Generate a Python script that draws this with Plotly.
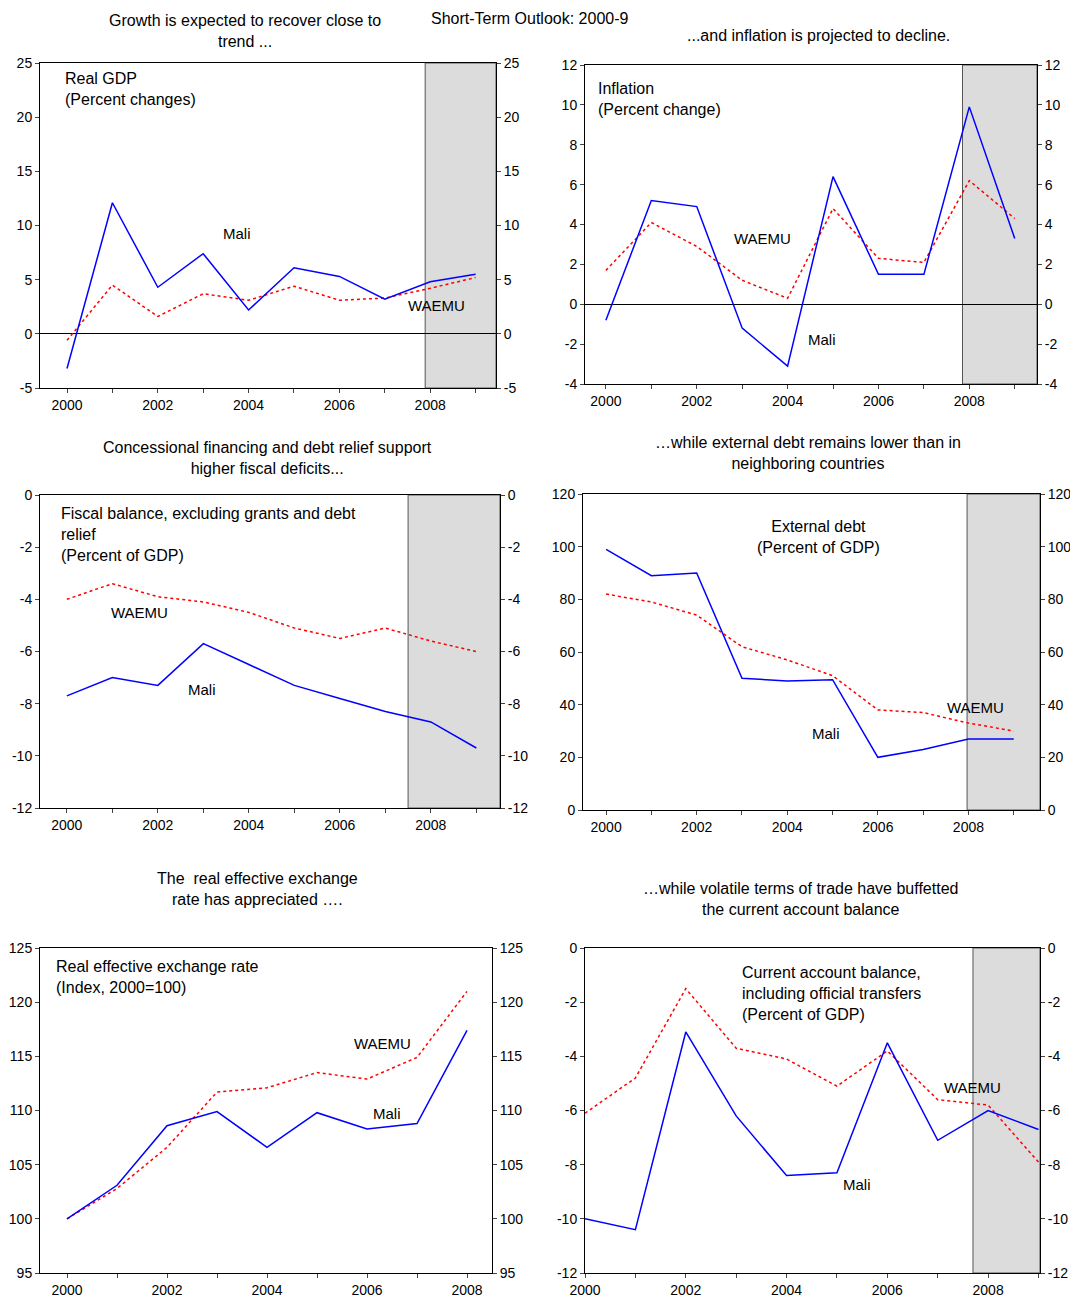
import plotly.graph_objects as go

W, H = 1078, 1306
OFF = 8  # page body margin
FW, FH = W - 2 * OFF, H - 2 * OFF
FONT = "Liberation Sans, Arial, sans-serif"

years10 = list(range(2000, 2010))
years9 = list(range(2000, 2009))

gdp_mali = [-3.2, 12.1, 4.3, 7.4, 2.2, 6.1, 5.3, 3.2, 4.8, 5.5]
gdp_waemu = [-0.6, 4.5, 1.6, 3.7, 3.1, 4.4, 3.1, 3.3, 4.2, 5.2]
inf_mali = [-0.8, 5.2, 4.9, -1.2, -3.1, 6.4, 1.5, 1.5, 9.9, 3.3]
inf_waemu = [1.7, 4.1, 2.9, 1.2, 0.3, 4.8, 2.3, 2.1, 6.2, 4.3]
fis_mali = [-7.7, -7.0, -7.3, -5.7, -6.5, -7.3, -7.8, -8.3, -8.7, -9.7]
fis_waemu = [-4.0, -3.4, -3.9, -4.1, -4.5, -5.1, -5.5, -5.1, -5.6, -6.0]
debt_mali = [99, 89, 90, 50, 49, 49.5, 20, 23, 27, 27]
debt_waemu = [82, 79, 74, 62, 57, 51, 38, 37, 33, 30]
reer_mali = [100, 103.1, 108.6, 109.9, 106.6, 109.8, 108.3, 108.8, 117.4]
reer_waemu = [100, 102.8, 106.6, 111.7, 112.1, 113.5, 112.9, 114.9, 121.0]
ca_mali = [-10.0, -10.4, -3.1, -6.2, -8.4, -8.3, -3.5, -7.1, -6.0, -6.7]
ca_waemu = [-6.1, -4.8, -1.5, -3.7, -4.1, -5.1, -3.8, -5.6, -5.8, -7.9]

panels = [
    dict(px=(40, 496, 63, 388), xr=[1999.405, 2009.45], yr=[-5, 25], dt=5, yrs=years10,
         mali=gdp_mali, waemu=gdp_waemu, shade=2007.89, zero=True),
    dict(px=(585, 1037, 65, 384), xr=[1999.54, 2009.49], yr=[-4, 12], dt=2, yrs=years10,
         mali=inf_mali, waemu=inf_waemu, shade=2007.85, zero=True),
    dict(px=(40, 500, 495, 808), xr=[1999.41, 2009.52], yr=[-12, 0], dt=2, yrs=years10,
         mali=fis_mali, waemu=fis_waemu, shade=2007.5, zero=False),
    dict(px=(583, 1040, 494, 810), xr=[1999.49, 2009.58], yr=[0, 120], dt=20, yrs=years10,
         mali=debt_mali, waemu=debt_waemu, shade=2007.97, zero=False),
    dict(px=(40, 492, 948, 1273), xr=[1999.46, 2008.5], yr=[95, 125], dt=5, yrs=years9,
         mali=reer_mali, waemu=reer_waemu, shade=None, zero=False),
    dict(px=(585, 1040, 948, 1273), xr=[2000, 2009.03], yr=[-12, 0], dt=2, yrs=years10,
         mali=ca_mali, waemu=ca_waemu, shade=2007.7, zero=False),
]


def fx(x):
    return (x - OFF) / FW


def fy(y):
    return 1 - (y - OFF) / FH


fig = go.Figure()
shapes, annotations = [], []
tickfont = dict(family=FONT, size=14, color="black")

for i, p in enumerate(panels, start=1):
    l, r, t, b = p["px"]
    xd = [fx(l), fx(r)]
    yd = [fy(b), fy(t)]
    xa, ya, ya2 = f"x{i}", f"y{i}", f"y{i + 6}"
    xk = "xaxis" if i == 1 else f"xaxis{i}"
    yk = "yaxis" if i == 1 else f"yaxis{i}"
    if p["shade"] is not None:
        shapes.append(dict(type="rect", xref=xa, yref="paper", x0=p["shade"], x1=p["xr"][1],
                           y0=yd[0], y1=yd[1], fillcolor="#dcdcdc",
                           line=dict(color="#555", width=1), layer="below"))
    fig.add_trace(go.Scatter(x=p["yrs"], y=p["waemu"], mode="lines", xaxis=xa, yaxis=ya,
                             line=dict(color="red", width=1.5, dash="dot"), showlegend=False))
    fig.add_trace(go.Scatter(x=p["yrs"], y=p["mali"], mode="lines", xaxis=xa, yaxis=ya,
                             line=dict(color="blue", width=1.5), showlegend=False))
    fig.add_trace(go.Scatter(x=[None], y=[None], xaxis=xa, yaxis=ya2, showlegend=False))
    ticktext = [str(y) if y % 2 == 0 else "" for y in p["yrs"]]
    yvals = list(range(p["yr"][0], p["yr"][1] + 1, p["dt"]))
    ytext = [str(v) for v in yvals]
    fig.layout[xk] = dict(domain=xd, range=p["xr"], tickmode="array", tickvals=p["yrs"],
                          ticktext=ticktext, ticks="outside", ticklen=4, showline=True,
                          linecolor="black", mirror=True, showgrid=False, zeroline=False,
                          tickfont=tickfont, anchor=ya, automargin=False)
    fig.layout[yk] = dict(domain=yd, range=p["yr"], tickmode="array", tickvals=yvals,
                          ticktext=ytext, ticks="outside", ticklen=4,
                          showline=True, linecolor="black", showgrid=False,
                          zeroline=p["zero"], zerolinecolor="black", zerolinewidth=1,
                          tickfont=tickfont, anchor=xa, automargin=False)
    fig.layout[f"yaxis{i + 6}"] = dict(domain=yd, range=p["yr"], tickmode="array", tickvals=yvals,
                                       ticktext=ytext, ticks="outside",
                                       ticklen=4, showline=True, linecolor="black",
                                       showgrid=False, zeroline=False, side="right",
                                       overlaying=ya, anchor=xa, tickfont=tickfont,
                                       automargin=False)


def note(text, x, y, xanchor="center", yanchor="middle", size=14, align="center"):
    annotations.append(dict(text=text, x=fx(x), y=fy(y), xref="paper", yref="paper",
                            xanchor=xanchor, yanchor=yanchor, showarrow=False, align=align,
                            font=dict(family=FONT, size=size, color="black")))


note("Short-Term Outlook: 2000-9", 530, 8, yanchor="top", size=16)
note("Growth is expected to recover close to<br>trend ...", 245, 31, size=16)
note("...and inflation is projected to decline.", 818, 36, size=16)
note("Concessional financing and debt relief support<br>higher fiscal deficits...", 267, 458, size=16)
note("…while external debt remains lower than in<br>neighboring countries", 808, 453, size=16)
note("The  real effective exchange<br>rate has appreciated ….", 258, 889, size=16)
note("…while volatile terms of trade have buffetted<br>the current account balance", 800, 899, size=16)

note("Real GDP<br>(Percent changes)", 63, 68, "left", "top", 16, "left")
note("Inflation<br>(Percent change)", 596, 78, "left", "top", 16, "left")
note("Fiscal balance, excluding grants and debt<br>relief<br>(Percent of GDP)", 59, 503, "left", "top", 16, "left")
note("External debt<br>(Percent of GDP)", 818, 516, "center", "top", 16)
note("Real effective exchange rate<br>(Index, 2000=100)", 54, 956, "left", "top", 16, "left")
note("Current account balance,<br>including official transfers<br>(Percent of GDP)", 740, 962, "left", "top", 16, "left")

for text, x, y in [("Mali", 237, 234), ("WAEMU", 436, 305), ("WAEMU", 762, 239), ("Mali", 822, 339),
                   ("WAEMU", 139, 612), ("Mali", 202, 689), ("WAEMU", 975, 707), ("Mali", 826, 733),
                   ("WAEMU", 382, 1043), ("Mali", 387, 1113), ("WAEMU", 972, 1087), ("Mali", 857, 1184)]:
    note(text, x, y, size=15)

fig.update_layout(width=FW, height=FH, margin=dict(l=0, r=0, t=0, b=0, autoexpand=False),
                  plot_bgcolor="white", paper_bgcolor="white",
                  shapes=shapes, annotations=annotations)
fig.write_html("out.html")
